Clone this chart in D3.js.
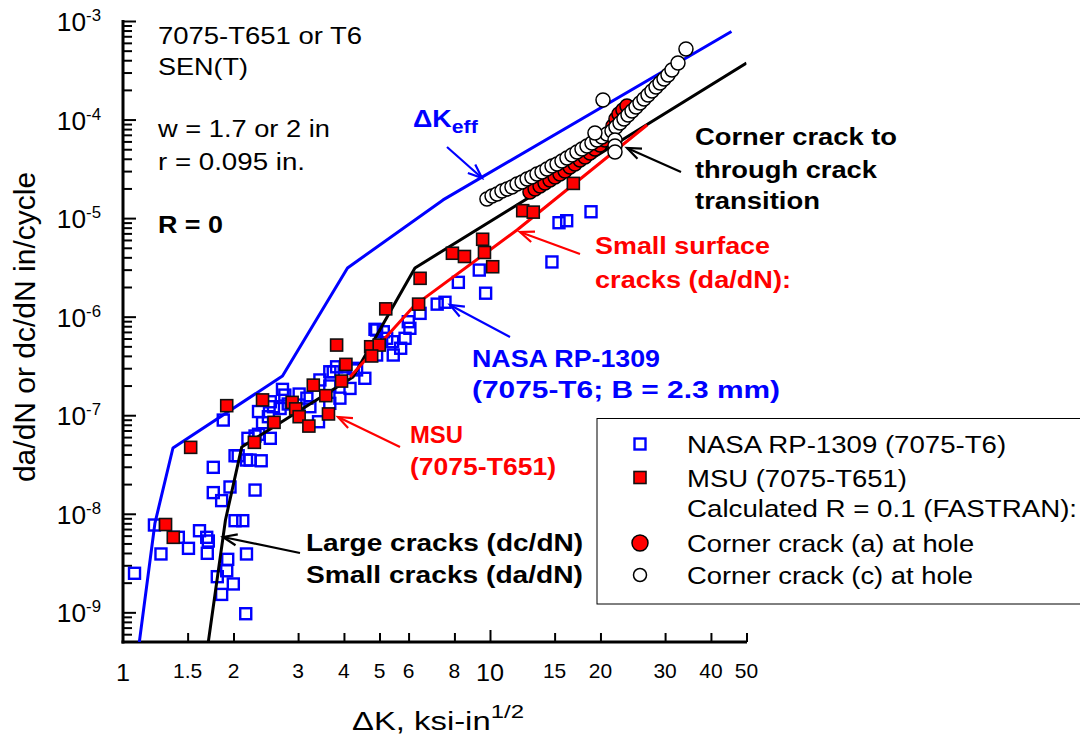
<!DOCTYPE html>
<html>
<head>
<meta charset="utf-8">
<script src="https://cdn.jsdelivr.net/npm/d3@7"></script>
<style>
  body { margin: 0; background: #fff; }
  svg { display: block; font-family: Arial, "Liberation Sans", sans-serif; }
</style>
</head>
<body>
<svg id="chart" width="1080" height="744"></svg>
<script>
// ---- data (dK in ksi-in^1/2, rate in in/cycle) ----
const xTickValues = [1, 1.5, 2, 3, 4, 5, 6, 8, 10, 15, 20, 30, 40, 50];
const xMajorTicks = [1, 10];
const yDecades = [-9, -8, -7, -6, -5, -4, -3];

// NASA RP-1309 (7075-T6) open squares
const nasaK = [1.075, 1.218, 1.269, 1.415, 1.508, 1.616, 1.691, 1.708, 1.697, 1.762, 1.857, 1.957, 2.29, 2.02, 2.12,
  1.929, 1.917, 1.807, 1.998, 1.857, 2.16, 2.17, 1.762, 1.876, 2.02, 2.06, 2.17, 2.22, 2.38, 2.19, 2.29, 2.34, 2.52,
  2.34, 2.40, 2.49, 2.52, 2.57, 2.68, 2.72, 2.76, 2.82, 3.02, 3.17, 3.41, 3.44, 3.66, 3.74, 3.90, 4.03, 4.155, 4.24,
  4.56, 4.91, 5.23, 5.45, 4.91, 3.23, 3.66, 3.82, 4.33, 3.66, 4.86, 5.12, 5.43, 5.71, 5.87, 5.99, 6.05, 6.45, 7.18,
  7.54, 8.20, 9.35, 9.73, 14.75, 15.42, 16.18, 18.85];
const nasaRate = [2.49e-9, 7.69e-9, 3.91e-9, 5.77e-9, 4.46e-9, 6.73e-9, 5.77e-9, 5.29e-9, 3.97e-9, 1.64e-8, 1.36e-8,
  1.87e-8, 1.74e-8, 8.51e-9, 8.51e-9, 3.45e-9, 2.64e-9, 2.30e-9, 1.94e-9, 1.52e-9, 9.68e-10, 3.91e-9, 2.96e-8,
  8.93e-8, 3.88e-8, 3.88e-8, 3.51e-8, 3.51e-8, 3.45e-8, 5.83e-8, 6.15e-8, 6.4e-8, 5.83e-8, 1.09e-7, 8.4e-8, 9.66e-8,
  1.37e-7, 1.22e-7, 1.17e-7, 1.83e-7, 1.60e-7, 1.30e-7, 1.64e-7, 1.49e-7, 8.59e-8, 2.28e-7, 1.98e-7, 2.76e-7,
  1.49e-7, 3.1e-7, 1.87e-7, 2.99e-7, 2.37e-7, 7.32e-7, 6.03e-7, 4.08e-7, 4.08e-7, 1.22e-7, 1.32e-7, 3.1e-7, 2.88e-7,
  2.76e-7, 7.44e-7, 7.03e-7, 5.57e-7, 4.78e-7, 6.03e-7, 8.89e-7, 7.62e-7, 1.08e-6, 1.34e-6, 1.40e-6, 2.23e-6,
  2.97e-6, 1.73e-6, 3.59e-6, 8.98e-6, 9.41e-6, 1.16e-5];

// MSU (7075-T651) filled squares
const msuK = [1.306, 1.371, 1.529, 1.917, 2.28, 2.40, 2.58, 2.89, 2.955, 3.02, 3.21, 3.30, 3.57, 3.63, 3.82, 4.05,
  3.94, 4.73, 4.99, 4.76, 5.20, 6.39, 6.45, 7.90, 8.52, 9.66, 9.55, 10.17, 12.28, 13.12, 16.87];
const msuRate = [7.78e-9, 5.77e-9, 4.72e-8, 1.25e-7, 5.31e-8, 1.43e-7, 8.47e-8, 1.35e-7, 1.16e-7, 9.66e-8, 7.76e-8,
  2.02e-7, 1.58e-7, 1.03e-7, 5.15e-7, 3.28e-7, 2.22e-7, 4.95e-7, 5.15e-7, 3.99e-7, 1.20e-6, 1.34e-6, 2.45e-6,
  4.40e-6, 4.08e-6, 4.48e-6, 6.1e-6, 3.21e-6, 1.19e-5, 1.15e-5, 2.25e-5];

// FASTRAN corner crack (a) at hole
const cornerAK = [12.85, 13.27, 13.69, 14.12, 14.57, 15.04, 15.51, 16.01, 16.52, 17.04, 17.59, 18.15, 18.73, 19.32,
  19.94, 20.57, 21.23, 21.63, 22.04, 22.46, 23.03, 23.62];
const cornerARate = [1.84e-5, 1.974e-5, 2.117e-5, 2.27e-5, 2.435e-5, 2.612e-5, 2.802e-5, 3.005e-5, 3.3e-5, 3.54e-5,
  3.887e-5, 4.169e-5, 4.577e-5, 5.026e-5, 5.518e-5, 6.202e-5, 7.3e-5, 8.6e-5, 1.013e-4, 1.138e-4, 1.25e-4, 1.372e-4];

// FASTRAN corner crack (c) at hole
const cornerCK = [9.81, 10.13, 10.45, 10.78, 11.13, 11.48, 11.85, 12.23, 12.62, 13.01, 13.43, 13.86, 14.30, 14.76,
  15.23, 15.71, 16.21, 16.73, 17.26, 17.81, 18.38, 18.96, 19.57, 20.19, 20.84, 21.50, 22.04, 22.61, 23.18, 23.77,
  24.38, 25.0, 25.63, 26.28, 26.95, 27.63, 28.34, 29.06, 29.8, 30.55, 31.33, 32.53, 34.2, 20.32, 19.32, 21.91, 21.91, 21.91];
const cornerCRate = [1.562e-5, 1.676e-5, 1.756e-5, 1.884e-5, 1.974e-5, 2.068e-5, 2.218e-5, 2.324e-5, 2.493e-5,
  2.612e-5, 2.802e-5, 2.936e-5, 3.149e-5, 3.379e-5, 3.54e-5, 3.797e-5, 4.073e-5, 4.369e-5, 4.685e-5, 5.026e-5,
  5.39e-5, 5.782e-5, 6.202e-5, 6.652e-5, 7.136e-5, 7.654e-5, 8.40e-5, 9.226e-5, 1.013e-4, 1.112e-4, 1.221e-4,
  1.341e-4, 1.472e-4, 1.616e-4, 1.775e-4, 1.949e-4, 2.14e-4, 2.35e-4, 2.58e-4, 2.833e-4, 3.184e-4, 3.749e-4, 5.2e-4,
  1.579e-4, 7.3e-5, 6.2e-5, 5.39e-5, 4.685e-5];

// lines
const effK = [1.108, 1.222, 1.368, 2.72, 4.09, 7.45, 45.5];
const effRate = [5.0e-10, 8.05e-9, 4.65e-8, 2.5e-7, 3.12e-6, 1.53e-5, 7.82e-4];
const largeK = [1.708, 1.902, 2.106, 4.234, 6.245, 50];
const largeRate = [5.0e-10, 8.65e-9, 4.75e-8, 2.44e-7, 3.12e-6, 3.75e-4];
const surfK = [4.155, 6.245, 11.85, 26.8];
const surfRate = [2.44e-7, 1.31e-6, 7.57e-6, 8.8e-5];

const legendLabels = ["NASA RP-1309 (7075-T6)", "MSU (7075-T651)", "Calculated R = 0.1 (FASTRAN):",
  "Corner crack (a) at hole", "Corner crack (c) at hole"];

// ---- layout ----
const width = 1080, height = 744;
const plot = { left: 123, right: 746.5, top: 21, bottom: 642 };
const SX = 1.12; // glyphs in the reference are a bit wider than Arial

const svg = d3.select("#chart");
const x = d3.scaleLog().domain([1, 50]).range([plot.left, plot.right]);
const y = d3.scaleLog().domain([5e-10, 1e-3]).range([plot.bottom, plot.top]);

// text helper: parts = [[string, size, dy], ...]; opt.w squeezes/stretches to a target width
function addText(parent, px, py, parts, opt = {}) {
  const t = parent.append("text")
    .attr("transform", `translate(${px},${py}) scale(${opt.sx || SX},1)`)
    .attr("font-size", opt.size || 24)
    .attr("font-weight", opt.bold ? "bold" : null)
    .attr("fill", opt.color || "#000")
    .attr("text-anchor", opt.anchor || "start");
  if (typeof parts === "string") parts = [[parts]];
  parts.forEach(p => {
    const s = t.append("tspan").text(p[0]);
    if (p[1]) s.attr("font-size", p[1]);
    if (p[2]) s.attr("dy", p[2]);
  });
  if (opt.w) {
    const n = t.node().getComputedTextLength();
    t.attr("transform", `translate(${px},${py}) scale(${opt.w / n},1)`);
  }
  return t;
}

svg.append("defs").append("clipPath").attr("id", "plotClip")
  .append("rect")
    .attr("x", plot.left).attr("y", plot.top)
    .attr("width", plot.right - plot.left).attr("height", plot.bottom - plot.top);

// ---- axes ----
const yMinor = [];
yDecades.concat([-10]).forEach(e => {
  d3.range(2, 10).forEach(m => {
    const v = m * Math.pow(10, e);
    if (v > 5e-10 && v < 1e-3) yMinor.push(v);
  });
});
const yMajor = yDecades.map(e => Math.pow(10, e));

function styleAxis(g) {
  g.select(".domain").remove();
  g.selectAll(".tick line").attr("stroke", "#000").attr("stroke-width", 2);
}

svg.append("g").attr("transform", `translate(${plot.left},0)`)
  .call(d3.axisRight(y).tickValues(yMinor).tickSize(9).tickFormat(""))
  .call(styleAxis);
svg.append("g").attr("transform", `translate(${plot.left},0)`)
  .call(d3.axisRight(y).tickValues(yMajor).tickSize(13).tickFormat(""))
  .call(styleAxis);

svg.append("g").attr("transform", `translate(0,${plot.bottom})`)
  .call(d3.axisTop(x).tickValues(xTickValues.filter(v => !xMajorTicks.includes(v))).tickSize(9).tickFormat(""))
  .call(styleAxis);
svg.append("g").attr("transform", `translate(0,${plot.bottom})`)
  .call(d3.axisTop(x).tickValues([10]).tickSize(12).tickFormat(""))
  .call(styleAxis);

svg.append("line")
  .attr("x1", plot.left).attr("x2", plot.left)
  .attr("y1", plot.top - 1).attr("y2", plot.bottom + 1.5)
  .attr("stroke", "#000").attr("stroke-width", 3);
svg.append("line")
  .attr("x1", plot.left - 1.5).attr("x2", plot.right + 0.5)
  .attr("y1", plot.bottom).attr("y2", plot.bottom)
  .attr("stroke", "#000").attr("stroke-width", 3);

// y tick labels: 10^e
yDecades.forEach(e => {
  addText(svg, 101, y(Math.pow(10, e)) + 10, [["10"], [String(e), 16, -10]], { anchor: "end", size: 25, sx: 1.05 });
});

// x tick labels
xTickValues.forEach(v => {
  const big = xMajorTicks.includes(v);
  addText(svg, x(v), big ? 681 : 678, String(v), { anchor: "middle", size: big ? 24 : 20, sx: 1.05 });
});

// axis titles
addText(svg, 352, 730, [["\u0394K, ksi-in"], ["1/2", 19, -12]], { size: 26, w: 172 });
svg.append("text")
  .attr("transform", `translate(35,327) rotate(-90)`)
  .attr("font-size", 30)
  .attr("text-anchor", "middle")
  .text("da/dN or dc/dN in/cycle");

// ---- marks ----
const chart = svg.append("g").attr("clip-path", "url(#plotClip)");
const line = d3.line().x(d => x(d[0])).y(d => y(d[1]));

chart.append("g")
  .selectAll("rect")
  .data(d3.zip(nasaK, nasaRate))
  .join("rect")
    .attr("x", d => x(d[0]) - 5.5)
    .attr("y", d => y(d[1]) - 5.5)
    .attr("width", 11).attr("height", 11)
    .attr("fill", "none")
    .attr("stroke", "#0000ff")
    .attr("stroke-width", 2.4);

[[effK, effRate, "#0000ff"], [largeK, largeRate, "#000"], [surfK, surfRate, "#ff0000"]].forEach(([ks, rs, c]) => {
  chart.append("path")
    .datum(d3.zip(ks, rs))
    .attr("d", line)
    .attr("fill", "none")
    .attr("stroke", c)
    .attr("stroke-width", 3)
    .attr("stroke-linejoin", "round");
});

chart.append("g")
  .selectAll("rect")
  .data(d3.zip(msuK, msuRate))
  .join("rect")
    .attr("x", d => x(d[0]) - 6)
    .attr("y", d => y(d[1]) - 6)
    .attr("width", 12).attr("height", 12)
    .attr("fill", "#ff0000")
    .attr("stroke", "#111")
    .attr("stroke-width", 1.6);

chart.append("g")
  .selectAll("circle")
  .data(d3.zip(cornerAK, cornerARate))
  .join("circle")
    .attr("cx", d => x(d[0]))
    .attr("cy", d => y(d[1]))
    .attr("r", 7)
    .attr("fill", "#ff0000")
    .attr("stroke", "#000")
    .attr("stroke-width", 1.5);

chart.append("g")
  .selectAll("circle")
  .data(d3.zip(cornerCK, cornerCRate))
  .join("circle")
    .attr("cx", d => x(d[0]))
    .attr("cy", d => y(d[1]))
    .attr("r", 7)
    .attr("fill", "#fff")
    .attr("stroke", "#000")
    .attr("stroke-width", 1.5);

// ---- annotations ----
function arrow(x1, y1, x2, y2, color) {
  const a = Math.atan2(y2 - y1, x2 - x1), len = 15, spread = 0.38;
  const g = svg.append("g").attr("stroke", color).attr("stroke-width", 2.2).attr("fill", "none");
  g.append("line").attr("x1", x1).attr("y1", y1).attr("x2", x2).attr("y2", y2);
  g.append("path").attr("d",
    `M${x2 - len * Math.cos(a - spread)},${y2 - len * Math.sin(a - spread)} L${x2},${y2} ` +
    `L${x2 - len * Math.cos(a + spread)},${y2 - len * Math.sin(a + spread)}`);
}

addText(svg, 158, 44, "7075-T651 or T6", { w: 204 });
addText(svg, 158, 75, "SEN(T)", { w: 90 });
addText(svg, 158, 137, "w = 1.7 or 2 in", { w: 172 });
addText(svg, 158, 170, "r = 0.095 in.", { w: 147 });
addText(svg, 158, 233, "R = 0", { bold: true, w: 65 });

addText(svg, 413, 127, [["\u0394K"], ["eff", 19, 6]], { bold: true, color: "#0000ff" });
arrow(447, 147, 482, 178, "#0000ff");

addText(svg, 695, 145, "Corner crack to", { bold: true, w: 202 });
addText(svg, 695, 178, "through crack", { bold: true, w: 182 });
addText(svg, 695, 209, "transition", { bold: true, w: 125 });
arrow(681, 172, 627, 148, "#000");

addText(svg, 595, 254, "Small surface", { bold: true, color: "#ff0000", w: 175 });
addText(svg, 595, 288, "cracks (da/dN):", { bold: true, color: "#ff0000", w: 196 });
arrow(580, 254, 520, 232, "#ff0000");

addText(svg, 472, 367, "NASA RP-1309", { bold: true, color: "#0000ff", w: 188 });
addText(svg, 472, 398, "(7075-T6; B = 2.3 mm)", { bold: true, color: "#0000ff", w: 308 });
arrow(510, 337, 450, 305, "#0000ff");

addText(svg, 410, 443, "MSU", { bold: true, color: "#ff0000", w: 53 });
addText(svg, 410, 475, "(7075-T651)", { bold: true, color: "#ff0000", w: 146 });
arrow(400, 447, 338, 417, "#ff0000");

addText(svg, 306, 551, "Large cracks (dc/dN)", { bold: true, w: 277 });
addText(svg, 306, 583, "Small cracks (da/dN)", { bold: true, w: 277 });
arrow(300, 553, 223, 537, "#000");

// ---- legend ----
const legend = svg.append("g");
legend.append("rect")
  .attr("x", 597).attr("y", 418.5).attr("width", 500).attr("height", 185.5)
  .attr("fill", "#fff").attr("stroke", "#000").attr("stroke-width", 1);
const legendY = [444, 477.5, 508, 543, 575];
const legendW = [319, 220, 390, 287, 286];
legendLabels.forEach((s, i) => addText(legend, 687, legendY[i] + 9, s, { w: legendW[i] }));
legend.append("rect").attr("x", 634.5).attr("y", legendY[0] - 5.5).attr("width", 11).attr("height", 11)
  .attr("fill", "none").attr("stroke", "#0000ff").attr("stroke-width", 2.4);
legend.append("rect").attr("x", 634).attr("y", legendY[1] - 6).attr("width", 12).attr("height", 12)
  .attr("fill", "#ff0000").attr("stroke", "#111").attr("stroke-width", 1.6);
legend.append("circle").attr("cx", 640).attr("cy", legendY[3]).attr("r", 8)
  .attr("fill", "#ff0000").attr("stroke", "#000").attr("stroke-width", 1.5);
legend.append("circle").attr("cx", 640).attr("cy", legendY[4]).attr("r", 6.5)
  .attr("fill", "#fff").attr("stroke", "#000").attr("stroke-width", 1.5);
</script>
</body>
</html>
